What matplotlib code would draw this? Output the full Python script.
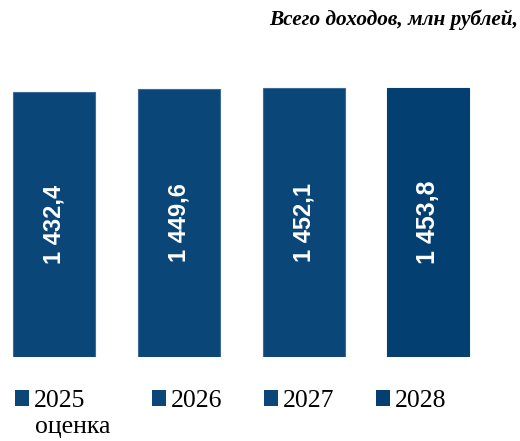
import matplotlib
matplotlib.use('Agg')
import matplotlib.pyplot as plt
from matplotlib.patches import Patch

# data
years = ['2025', '2026', '2027', '2028']
values = [1432.4, 1449.6, 1452.1, 1453.8]
value_labels = ['1 432,4', '1 449,6', '1 452,1', '1 453,8']
title_text = 'Всего доходов, млн рублей,'
note_2025 = 'оценка'

bar_colors = ['#0B4679', '#0B4679', '#0B4679', '#033F70']
edge_colors = ['#3C6B99', '#3C6B99', '#3C6B99', '#033F70']
label_sizes = [17, 17, 17, 18]

fig = plt.figure(figsize=(5.2, 4.41), dpi=100)
ax = fig.add_axes([0, 84 / 441, 1, 314.5 / 441])

x = list(range(len(values)))
bars = ax.bar(x, values, width=0.657, color=bar_colors, edgecolor=edge_colors, linewidth=0.8)

for xi, v, lab, fs in zip(x, values, value_labels, label_sizes):
    ax.text(xi, v / 2, lab, rotation=90, ha='center', va='center', color='white',
            fontsize=fs, fontweight='bold', family=['Liberation Sans', 'DejaVu Sans'])

ax.set_xlim(-0.4327, -0.4327 + 520 / 124.8)
ax.set_ylim(0, 1700)
ax.axis('off')

# title
fig.text(518 / 520, 1 - 25 / 441, title_text, ha='right', va='baseline', fontsize=15.3,
         fontweight='bold', fontstyle='italic', family='Liberation Serif')

# legend (2025 apart because of the second line)
handles = [Patch(facecolor=c) for c in bar_colors]
leg_prop = {'family': 'Liberation Serif', 'size': 18.5}
leg_kw = dict(frameon=False, borderpad=0, borderaxespad=0, handlelength=0.545,
              handleheight=0.545, handletextpad=0.19, prop=leg_prop, loc='center left')
leg1 = fig.legend(handles[:1], years[:1], bbox_to_anchor=(15 / 520, 1 - 401 / 441), **leg_kw)
leg2 = fig.legend(handles[1:], years[1:], bbox_to_anchor=(152 / 520, 1 - 401 / 441),
                  ncol=3, columnspacing=1.62, **leg_kw)
fig.text(35 / 520, 1 - 433 / 441, note_2025, ha='left', va='baseline', fontsize=18.5,
         family='Liberation Serif')

fig.savefig('out.png', dpi=100)
